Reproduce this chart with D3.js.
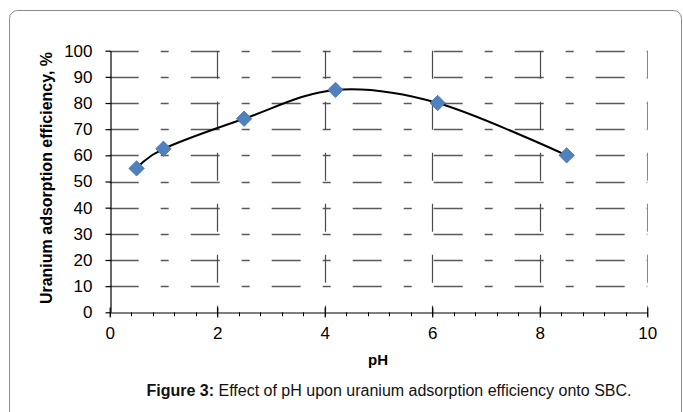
<!DOCTYPE html>
<html>
<head>
<meta charset="utf-8">
<script src="https://cdn.jsdelivr.net/npm/d3@7"></script>
<style>
  html, body { margin: 0; padding: 0; background: #fff; }
  svg { display: block; font-family: "Liberation Sans", Arial, sans-serif; }
</style>
</head>
<body>
<svg id="chart" width="683" height="412"></svg>
<script>
// ---- data ----
const phValues = [0.5, 1.0, 2.5, 4.2, 6.1, 8.5];
const efficiency = [55, 62.5, 74, 85, 80, 60];
const xTicks = [0, 2, 4, 6, 8, 10];
const yTicks = [0, 10, 20, 30, 40, 50, 60, 70, 80, 90, 100];
const xGridValues = [2, 4, 6, 8, 10];
const xTitle = "pH";
const yTitle = "Uranium adsorption efficiency, %";
const captionBold = "Figure 3:";
const captionText = " Effect of pH upon uranium adsorption efficiency onto SBC.";

const svg = d3.select("#chart");
const x = d3.scaleLinear().domain([0, 10]).range([109.7, 647.3]);
const y = d3.scaleLinear().domain([0, 100]).range([312.3, 50.7]);

// frame
svg.append("rect").attr("x", 9.5).attr("y", 10.5).attr("width", 672).attr("height", 430)
  .attr("rx", 8).attr("fill", "none").attr("stroke", "#8a8a8a").attr("stroke-width", 1);

// horizontal gridlines
svg.append("g").selectAll("line").data(yTicks.filter(d => d > 0)).join("line")
  .attr("x1", x(0)).attr("x2", x(10))
  .attr("y1", d => Math.round(y(d)) + 0.5).attr("y2", d => Math.round(y(d)) + 0.5)
  .attr("stroke", "#5a5a5a").attr("stroke-width", 1.3)
  .attr("stroke-dasharray", "29,22,8,22");

// vertical gridlines
svg.append("g").selectAll("line").data(xGridValues).join("line")
  .attr("x1", d => Math.round(x(d)) + 0.5).attr("x2", d => Math.round(x(d)) + 0.5)
  .attr("y1", y(100)).attr("y2", y(0))
  .attr("stroke", d => d === 10 ? "#888" : "#4a4a4a").attr("stroke-width", d => d === 10 ? 1 : 1.2)
  .attr("stroke-dasharray", "28,23");

// y axis
const yAxis = svg.append("g").attr("transform", `translate(${Math.round(x(0)) + 0.5},0)`)
  .call(d3.axisLeft(y).tickValues(yTicks).tickSize(5).tickPadding(13).tickSizeOuter(0));
yAxis.select(".domain").attr("stroke", "#000").attr("stroke-width", 1.2);
yAxis.selectAll(".tick line").attr("stroke", "#000").attr("stroke-width", 1.2);
yAxis.selectAll(".tick text").attr("font-size", 17).attr("fill", "#000")
  .attr("font-family", "Liberation Sans, Arial, sans-serif");

// x axis minor ticks
const minorTicks = d3.range(0, 10.001, 0.4).map(v => +v.toFixed(1));
svg.append("g").selectAll("line").data(minorTicks).join("line")
  .attr("x1", d => Math.round(x(d)) + 0.5).attr("x2", d => Math.round(x(d)) + 0.5)
  .attr("y1", y(0)).attr("y2", y(0) + 4)
  .attr("stroke", "#000").attr("stroke-width", 1);

// x axis
const xAxis = svg.append("g").attr("transform", `translate(0,${Math.round(y(0)) + 0.5})`)
  .call(d3.axisBottom(x).tickValues(xTicks).tickSize(5).tickPadding(9).tickSizeOuter(0));
xAxis.select(".domain").attr("stroke", "#000").attr("stroke-width", 1.2);
xAxis.selectAll(".tick line").attr("y1", -5).attr("stroke", "#000").attr("stroke-width", 1.2);
xAxis.selectAll(".tick text").attr("font-size", 17).attr("fill", "#000")
  .attr("font-family", "Liberation Sans, Arial, sans-serif");

// axis titles
svg.append("text").attr("x", 378).attr("y", 365).attr("text-anchor", "middle")
  .attr("font-size", 15).attr("font-weight", "bold").text(xTitle);
svg.append("text").attr("transform", "translate(52,178) rotate(-90)")
  .attr("text-anchor", "middle").attr("font-size", 16).attr("font-weight", "bold").text(yTitle);

// smoothed line
const pts = phValues.map((v, i) => [v, efficiency[i]]);
const line = d3.line().x(d => x(d[0])).y(d => y(d[1])).curve(d3.curveCardinal.tension(0));
svg.append("path").datum(pts).attr("d", line)
  .attr("fill", "none").attr("stroke", "#000").attr("stroke-width", 2);

// markers
svg.append("g").selectAll("path").data(pts).join("path")
  .attr("d", d3.symbol().type(d3.symbolSquare).size(118))
  .attr("transform", d => `translate(${x(d[0])},${y(d[1])}) rotate(45)`)
  .attr("fill", "#4F81BD").attr("stroke", "#4678b4").attr("stroke-width", 0.8);

// caption
const cap = svg.append("text").attr("x", 389).attr("y", 396).attr("text-anchor", "middle")
  .attr("font-size", 16).attr("fill", "#111");
cap.append("tspan").attr("font-weight", "bold").text(captionBold);
cap.append("tspan").text(captionText);
</script>
</body>
</html>
